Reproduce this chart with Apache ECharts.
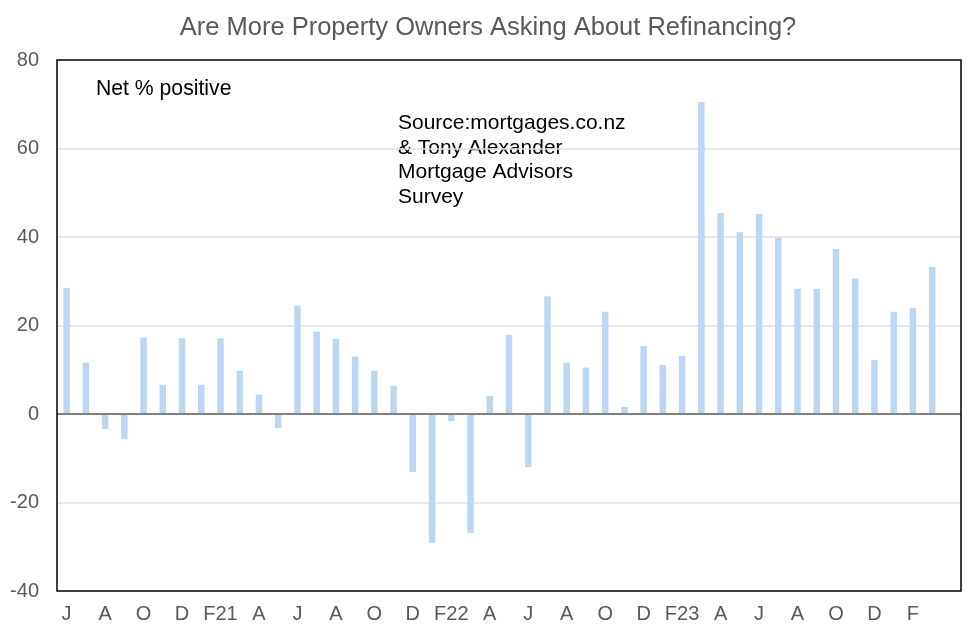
<!DOCTYPE html>
<html>
<head>
<meta charset="utf-8">
<script src="https://cdn.jsdelivr.net/npm/echarts@6/dist/echarts.min.js"></script>
<style>
html,body{margin:0;padding:0;background:#fff;}
#main{width:976px;height:636px;}
</style>
</head>
<body>
<div id="main"></div>
<script>
// month initials, Jun 2020 .. Apr 2024 (last slot empty)
var months=['J','J','A','S','O','N','D',
    'J','F21','M','A','M','J','J','A','S','O','N','D',
    'J','F22','M','A','M','J','J','A','S','O','N','D',
    'J','F23','M','A','M','J','J','A','S','O','N','D',
    'J','F','M',''];
// net % positive
var netPositive=[28.5,11.6,-3.4,-5.7,17.3,6.6,17.1,6.6,17.1,9.8,
    4.4,-3.2,24.5,18.6,17.0,13.0,9.8,6.4,-13.1,-29.1,
    -1.6,-26.9,4.1,17.9,-12.0,26.6,11.6,10.5,23.1,1.6,
    15.4,11.1,13.1,70.5,45.4,41.1,45.2,39.9,28.3,28.3,
    37.3,30.6,12.2,23.1,24.0,33.2];
var yTicks={min:-40,max:80,step:20};

var font="'Liberation Sans', Arial, sans-serif";
var myChart=echarts.init(document.getElementById('main'));
var option={
    animation:false,
    backgroundColor:'#fff',
    title:{
        text:'Are More Property Owners Asking About Refinancing?',
        left:'center',
        top:10,
        textStyle:{color:'#595959',fontSize:25.5,fontWeight:'normal',fontFamily:font}
    },
    grid:{
        left:57,right:15,top:60,bottom:45,
        show:true,
        borderColor:'#000',
        borderWidth:1.5,
        z:10
    },
    xAxis:{
        type:'category',
        data:months,
        axisLine:{show:false,onZero:false},
        axisTick:{show:false},
        axisLabel:{interval:1,color:'#595959',fontSize:20,fontFamily:font,margin:13},
        splitLine:{show:false}
    },
    yAxis:{
        type:'value',
        min:yTicks.min,
        max:yTicks.max,
        interval:yTicks.step,
        axisLine:{show:false},
        axisTick:{show:false},
        axisLabel:{color:'#595959',fontSize:20,fontFamily:font,margin:18},
        splitLine:{showMinLine:false,showMaxLine:false,lineStyle:{color:'#e0e0e0',width:1.5}}
    },
    graphic:[
        {
            type:'text',left:96,top:79,
            style:{text:'Net % positive',fill:'#000',fontSize:21.2,fontFamily:font}
        },
        {
            type:'text',left:398,top:111,
            style:{
                text:'Source:mortgages.co.nz\n& Tony Alexander\nMortgage Advisors\nSurvey',
                fill:'#000',fontSize:21,fontFamily:font,lineHeight:24.6
            }
        }
    ],
    series:[{
        type:'bar',
        data:netPositive,
        barWidth:6.5,
        itemStyle:{color:'#BDD7F3'},
        markLine:{
            silent:true,
            symbol:'none',
            label:{show:false},
            lineStyle:{color:'#808080',width:2,type:'solid'},
            data:[{yAxis:0}]
        }
    }]
};
myChart.setOption(option);
</script>
</body>
</html>
